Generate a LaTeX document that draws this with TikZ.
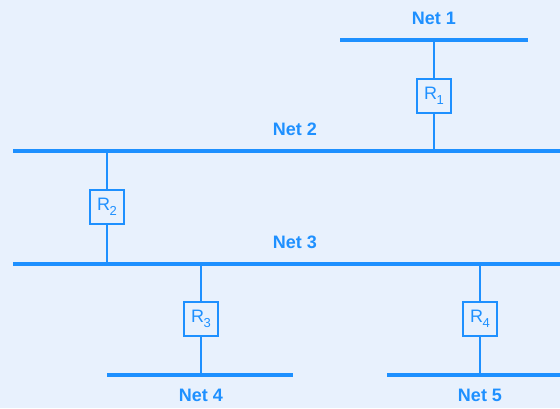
\documentclass[tikz,border=0pt]{standalone}
\usepackage{fontspec}
\setmainfont{Liberation Sans}
\usepackage{tikz}
\usetikzlibrary{positioning}
\definecolor{netblue}{RGB}{30,144,255}
\definecolor{paper}{RGB}{232,241,253}
\newcommand{\rtr}[1]{R\kern-0.3pt\raisebox{-5pt}{\fontsize{13}{13}\selectfont #1}}

\begin{document}
\begin{tikzpicture}[x=1pt,y=1pt]
\tikzstyle{net}=[draw=netblue, line width=3.2pt]
\tikzstyle{link}=[draw=netblue, line width=1.6pt]
\tikzstyle{router}=[rectangle, draw=netblue, line width=1.3pt, fill=paper, minimum width=34pt, minimum height=34pt, inner sep=0pt, text=netblue, font=\fontsize{18}{18}\selectfont]
\tikzstyle{netlabel}=[text=netblue, font=\fontsize{18}{18}\selectfont\bfseries]
\fill[paper] (0,0) rectangle (560,408);
\useasboundingbox (0,0) rectangle (560,408);
% nets
\coordinate (n1l) at (340,368); \coordinate (n1r) at (528,368);
\coordinate (n2l) at (13,257);  \coordinate (n2r) at (560,257);
\coordinate (n3l) at (13,144);  \coordinate (n3r) at (560,144);
\coordinate (n4l) at (107,33);  \coordinate (n4r) at (293,33);
\coordinate (n5l) at (387,33);  \coordinate (n5r) at (560,33);
\draw[net] (n1l) -- (n1r);
\draw[net] (n2l) -- (n2r);
\draw[net] (n3l) -- (n3r);
\draw[net] (n4l) -- (n4r);
\draw[net] (n5l) -- (n5r);
\node[netlabel] (net1) at (434,390) {Net 1};
\node[netlabel] (net2) at (295,279) {Net 2};
\node[netlabel] (net3) at (295,166) {Net 3};
\node[netlabel] (net4) at (201,13) {Net 4};
\node[netlabel] (net5) at (480,13) {Net 5};
% routers
\node[router] (r1) at (434,312) {\rtr{1}};
\node[router] (r2) at (107,201) {\rtr{2}};
\node[router] (r3) at (201,89) {\rtr{3}};
\node[router] (r4) at (480,89) {\rtr{4}};
\path (r1) edge [link] (r1 |- n1l);
\path (r1) edge [link] (r1 |- n2l);
\path (r2) edge [link] (r2 |- n2l);
\path (r2) edge [link] (r2 |- n3l);
\path (r3) edge [link] (r3 |- n3l);
\path (r3) edge [link] (r3 |- n4l);
\path (r4) edge [link] (r4 |- n3l);
\path (r4) edge [link] (r4 |- n5l);
\end{tikzpicture}
\end{document}
